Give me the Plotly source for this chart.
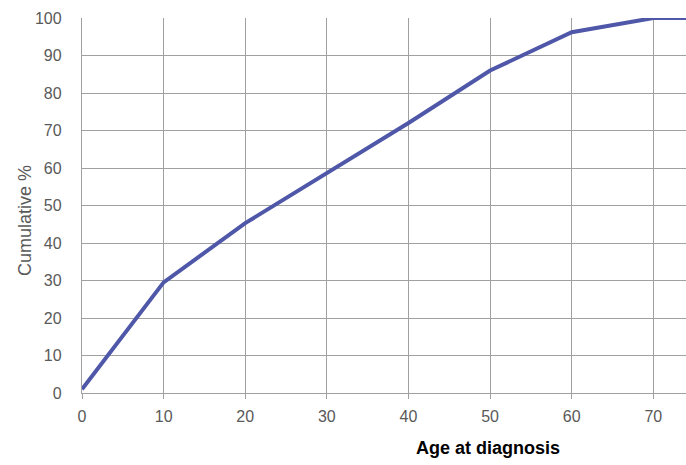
import plotly.graph_objects as go

# cumulative % of cases by age at diagnosis
age = [0, 10, 20, 30, 40, 50, 60, 70, 75]
cumulative_pct = [1, 29.5, 45.3, 58.8, 72, 86, 96.2, 100, 100]

x_ticks = [0, 10, 20, 30, 40, 50, 60, 70]
y_ticks = [0, 10, 20, 30, 40, 50, 60, 70, 80, 90, 100]

grey = "#595959"
tick_font = dict(family="Liberation Sans, Arial, sans-serif", size=16, color=grey)

fig = go.Figure()
fig.add_trace(go.Scatter(
    x=age, y=cumulative_pct, mode="lines",
    line=dict(color="#4F57A8", width=4),
    showlegend=False,
))

fig.update_xaxes(
    range=[0, 74], tickvals=x_ticks, showgrid=True, gridcolor="#a0a0a0", gridwidth=1.3,
    zeroline=False, showline=True, linecolor="#a0a0a0", linewidth=1.3,
    ticks="outside", ticklen=5, tickcolor="#a0a0a0", tickfont=tick_font,
    ticklabelstandoff=4,
)
fig.update_yaxes(
    range=[0, 100], tickvals=y_ticks, showgrid=True, gridcolor="#a0a0a0", gridwidth=1.3,
    zeroline=False, showline=True, linecolor="#a0a0a0", linewidth=1.3,
    ticks="", tickfont=tick_font, ticklabelstandoff=16,
)

# axis titles placed as in the original (not centred on the plot)
fig.add_annotation(
    text="Cumulative %", xref="paper", yref="paper", x=-0.094, y=0.459, textangle=-90,
    showarrow=False, font=dict(family="Liberation Sans, Arial, sans-serif", size=18, color=grey),
    xanchor="center", yanchor="middle",
)
fig.add_annotation(
    text="<b>Age at diagnosis</b>", xref="paper", yref="paper", x=0.672, y=-0.147,
    showarrow=False, font=dict(family="Liberation Sans, Arial, sans-serif", size=18, color="black"),
    xanchor="center", yanchor="middle",
)

fig.update_layout(
    width=686, height=465,
    margin=dict(l=82, r=0, t=18, b=72),
    plot_bgcolor="white", paper_bgcolor="white",
)

fig.write_html("out.html", config={"displayModeBar": False},
               post_script="document.body.style.margin='0';")
